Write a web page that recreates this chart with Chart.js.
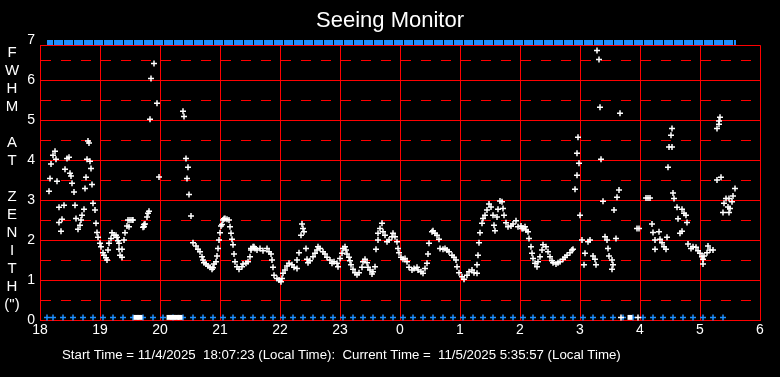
<!DOCTYPE html>
<html>
<head>
<meta charset="utf-8">
<title>Seeing Monitor</title>
<script src="https://cdn.jsdelivr.net/npm/chart.js@4/dist/chart.umd.min.js"></script>
<style>
  html, body { margin: 0; padding: 0; background: #000; }
  canvas { display: block; }
</style>
</head>
<body>
<canvas id="seeingChart" width="780" height="377"></canvas>
<script>
// x values are minutes after 18:00 local time, y values are FWHM in arcsec
const hourLabels = ['18', '19', '20', '21', '22', '23', '0', '1', '2', '3', '4', '5', '6'];
const yTickValues = [0, 0.5, 1, 1.5, 2, 2.5, 3, 3.5, 4, 4.5, 5, 5.5, 6, 6.5, 7];
const yAxisLetters = ['F', 'W', 'H', 'M', '', 'A', 'T', '', 'Z', 'E', 'N', 'I', 'T', 'H', '(")'];
const footerText = 'Start Time = 11/4/2025  18:07:23 (Local Time):  Current Time =  11/5/2025 5:35:57 (Local Time)';

// status ticks (blue) along the bottom, and the run bar along the top
const statusMinutes = [7, 13, 23, 33, 43, 53, 63, 73, 83, 93, 103, 113, 123, 133, 143, 153, 163, 173,
  183, 193, 203, 213, 223, 233, 243, 253, 263, 273, 283, 293, 303, 313, 323, 333, 343, 353, 363, 373,
  383, 393, 403, 413, 423, 433, 443, 453, 463, 473, 483, 493, 503, 513, 523, 533, 543, 553, 563, 573,
  583, 593, 603, 613, 623, 633, 643, 653, 663, 673, 683];
const currentMinute = 696;
const gapMinutes = [96, 100, 129, 133, 137, 140, 590];
const idleMinutes = [581, 598];

const seeingSamples = [
  // 18h
  [9, 3.22], [10, 3.54], [11, 3.9], [13, 4.12], [15, 4.22], [16, 4.02], [17, 3.47], [19, 2.82], [19, 2.44],
  [21, 2.22], [22, 2.52], [24, 2.87], [25, 3.77], [27, 4.04], [29, 4.07], [30, 3.67], [31, 3.6], [32, 3.42],
  [34, 3.2], [35, 2.87], [36, 2.54], [38, 2.27], [40, 2.37], [41, 2.5], [42, 2.62], [44, 2.77], [45, 3.29],
  [46, 3.57], [47, 4.02], [48, 4.48], [49, 4.43], [50, 3.97], [51, 3.79], [52, 3.39], [53, 2.92], [55, 2.75],
  [56, 2.42], [57, 2.19], [58, 2.07], [60, 1.92],
  // 19h
  [61, 1.83], [63, 1.68], [64, 1.62], [66, 1.56], [67, 1.5], [68, 1.75], [69, 1.92], [71, 2.04], [72, 2.18],
  [74, 2.12], [76, 2.12], [77, 2.07], [78, 1.98], [79, 1.92], [79, 1.77], [80, 1.62], [82, 1.77], [82, 1.57],
  [84, 2.0], [85, 2.18], [87, 2.35], [88, 2.5], [89, 2.33], [90, 2.5], [92, 2.5], [93, 2.5], [103, 2.32],
  [104, 2.39], [104, 2.33], [105, 2.4], [107, 2.58], [108, 2.67], [109, 2.72], [110, 5.02], [111, 6.04],
  [114, 6.42], [117, 5.42], [119, 3.58],
  // 20h
  [143, 5.22], [144, 5.09], [146, 4.04], [147, 3.54], [148, 3.82], [149, 3.14], [151, 2.6], [153, 1.93],
  [156, 1.85], [158, 1.77], [160, 1.71], [162, 1.58], [163, 1.5], [164, 1.43], [166, 1.4], [168, 1.35],
  [170, 1.32], [172, 1.27], [173, 1.31], [174, 1.4], [176, 1.46], [177, 1.6], [178, 1.79], [179, 2.0],
  [180, 2.18], [181, 2.35], [182, 2.39], [183, 2.5], [184, 2.53], [185, 2.54], [187, 2.52], [189, 2.5],
  [190, 2.33], [191, 2.17], [192, 2.02], [193, 1.88], [194, 1.65], [195, 1.46], [197, 1.33], [199, 1.27],
  // 21h
  [202, 1.33], [203, 1.4], [206, 1.42], [208, 1.46], [210, 1.58], [211, 1.75], [213, 1.83], [215, 1.79],
  [217, 1.75], [211, 1.79], [214, 1.83], [220, 1.79], [223, 1.73], [227, 1.79], [229, 1.71], [231, 1.65],
  [232, 1.5], [233, 1.32], [234, 1.12], [237, 1.04], [239, 1.0],
  // 22h
  [241, 0.96], [242, 1.04], [243, 1.17], [245, 1.25], [247, 1.35], [249, 1.42], [252, 1.38], [254, 1.32],
  [257, 1.29], [257, 1.5], [259, 1.68], [261, 2.12], [262, 2.4], [263, 2.29], [264, 2.21], [266, 1.79],
  [267, 1.52], [268, 1.43], [270, 1.48], [273, 1.58], [275, 1.67], [277, 1.75], [278, 1.83], [280, 1.79],
  [283, 1.71], [285, 1.65], [287, 1.57], [290, 1.5], [292, 1.42], [294, 1.46], [297, 1.42], [298, 1.33],
  // 23h
  [300, 1.54], [302, 1.67], [303, 1.79], [305, 1.83], [306, 1.75], [307, 1.65], [309, 1.57], [310, 1.48],
  [311, 1.38], [313, 1.27], [315, 1.18], [317, 1.13], [319, 1.18], [322, 1.32], [323, 1.46], [325, 1.52],
  [327, 1.43], [328, 1.32], [330, 1.25], [332, 1.15], [333, 1.21], [335, 1.33], [336, 1.77], [338, 2.0],
  [338, 2.17], [340, 2.29], [342, 2.42], [343, 2.21], [345, 2.12], [347, 1.96], [349, 2.0], [352, 2.08],
  [353, 2.17], [355, 2.08], [357, 1.96], [358, 1.79], [359, 1.68],
  // 0h
  [361, 1.57], [363, 1.52], [365, 1.54], [367, 1.46], [369, 1.32], [372, 1.25], [374, 1.29], [377, 1.32],
  [378, 1.25], [381, 1.21], [383, 1.17], [385, 1.29], [387, 1.42], [388, 1.65], [389, 1.92], [392, 2.21],
  [393, 2.23], [395, 2.17], [397, 2.12], [399, 2.02], [400, 1.79], [403, 1.77], [405, 1.79], [407, 1.75],
  [409, 1.71], [412, 1.62], [414, 1.57], [416, 1.5], [417, 1.33], [419, 1.18],
  // 1h
  [422, 1.08], [424, 1.02], [427, 1.12], [429, 1.21], [432, 1.25], [434, 1.18], [437, 1.17], [437, 1.38],
  [438, 1.62], [439, 1.93], [440, 2.18], [442, 2.42], [443, 2.54], [445, 2.62], [447, 2.75], [449, 2.9],
  [451, 2.83], [453, 2.62], [454, 2.37], [455, 2.23], [457, 2.58], [458, 2.77], [460, 2.98], [462, 2.96],
  [463, 2.79], [464, 2.62], [466, 2.43], [468, 2.33], [471, 2.35], [473, 2.4], [476, 2.48], [478, 2.33],
  // 2h
  [481, 2.35], [482, 2.29], [483, 2.29], [485, 2.33], [486, 2.25], [488, 2.21], [489, 2.04], [491, 1.83],
  [492, 1.67], [493, 1.54], [495, 1.42], [497, 1.33], [498, 1.46], [500, 1.58], [502, 1.75], [503, 1.88],
  [506, 1.83], [508, 1.71], [510, 1.58], [512, 1.48], [513, 1.43], [516, 1.4], [518, 1.43], [520, 1.46],
  [523, 1.52], [525, 1.57], [527, 1.62], [530, 1.68], [532, 1.75], [533, 1.77], [535, 3.27], [537, 3.62],
  [537, 4.17], [538, 4.57], [539, 3.92],
  // 3h
  [540, 2.62], [542, 2.0], [544, 1.38], [545, 1.67], [548, 1.96], [550, 2.0], [553, 1.6], [555, 1.52],
  [556, 1.38], [557, 6.74], [559, 6.52], [560, 5.32], [561, 4.02], [563, 2.97], [565, 2.08], [567, 2.0],
  [568, 1.79], [569, 1.6], [572, 1.5], [572, 1.27], [573, 1.38], [574, 2.75], [576, 2.04], [577, 3.07],
  [579, 3.25], [580, 5.17], [597, 2.29], [599, 2.29],
  // 4h
  [606, 3.05], [608, 3.05], [610, 3.05], [612, 2.4], [613, 2.19], [615, 2.0], [615, 1.77], [619, 2.21],
  [620, 2.02], [622, 1.93], [624, 1.83], [626, 1.77], [627, 2.07], [628, 3.82], [629, 4.33], [631, 4.62],
  [632, 4.79], [632, 4.33], [633, 3.18], [634, 3.04], [637, 2.82], [638, 2.53], [640, 2.17], [642, 2.22],
  [642, 2.77], [644, 2.67], [646, 2.62], [647, 2.44], [648, 1.9], [651, 1.79], [653, 1.83], [656, 1.82],
  [658, 1.73],
  // 5h
  [660, 1.67], [662, 1.58], [663, 1.52], [663, 1.4], [664, 1.6], [667, 1.68], [668, 1.85], [670, 1.75],
  [673, 1.75], [677, 4.79], [677, 3.5], [679, 4.9], [679, 4.98], [680, 5.07], [681, 3.57], [683, 2.69],
  [684, 2.92], [686, 3.04], [688, 2.83], [689, 3.04], [689, 2.69], [690, 2.79], [692, 2.96], [693, 3.1],
  [695, 3.29]
];

const RED = '#ff0000';
const BLUE = '#1e90ff';
const FONT = 'Arial, "Liberation Sans", sans-serif';
const bottomRow = 0.065;
const topRow = 6.94;

// top edge of the frame, stacked axis letters and the footer line
const seeingDecor = {
  id: 'seeingDecor',
  beforeDatasetsDraw(chart) {
    const { ctx, chartArea } = chart;
    ctx.save();
    ctx.strokeStyle = RED;
    ctx.lineWidth = 1;
    ctx.beginPath();
    ctx.moveTo(chartArea.left, Math.round(chartArea.top) + 0.5);
    ctx.lineTo(chartArea.right, Math.round(chartArea.top) + 0.5);
    ctx.stroke();
    ctx.restore();
  },
  afterDraw(chart) {
    const ctx = chart.ctx;
    ctx.save();
    ctx.fillStyle = '#ffffff';
    ctx.font = '15px ' + FONT;
    ctx.textAlign = 'center';
    ctx.textBaseline = 'middle';
    yAxisLetters.forEach((ch, i) => ctx.fillText(ch, 12, 53 + i * 18));
    ctx.font = '13.25px ' + FONT;
    ctx.textAlign = 'left';
    ctx.fillText(footerText, 62, 355);
    ctx.restore();
  }
};

const ctx = document.getElementById('seeingChart').getContext('2d');
new Chart(ctx, {
  type: 'scatter',
  data: {
    datasets: [
      {
        label: 'FWHM',
        data: seeingSamples.map(p => ({ x: p[0], y: p[1] })),
        pointStyle: 'cross',
        pointRadius: 3,
        borderColor: '#ffffff',
        borderWidth: 1.5,
        clip: false
      },
      {
        label: 'idle',
        data: idleMinutes.map(m => ({ x: m, y: bottomRow })),
        pointStyle: 'cross',
        pointRadius: 3,
        borderColor: '#ffffff',
        borderWidth: 1.5,
        clip: false
      },
      {
        label: 'gaps',
        data: gapMinutes.map(m => ({ x: m, y: bottomRow })),
        pointStyle: 'rect',
        pointRadius: 3.5,
        backgroundColor: '#ffffff',
        borderWidth: 0,
        clip: false
      },
      {
        label: 'status',
        data: statusMinutes.map(m => ({ x: m, y: bottomRow })),
        pointStyle: 'cross',
        pointRadius: 3,
        borderColor: BLUE,
        borderWidth: 1.5,
        clip: false
      },
      {
        label: 'run',
        data: statusMinutes.concat([currentMinute]).map(m => ({ x: m, y: topRow })),
        showLine: true,
        borderColor: BLUE,
        borderWidth: 5,
        borderDash: [9, 1],
        borderDashOffset: 3,
        pointRadius: 0,
        clip: false
      }
    ]
  },
  options: {
    responsive: false,
    animation: false,
    events: [],
    layout: { padding: 0 },
    plugins: {
      legend: { display: false },
      tooltip: { enabled: false },
      title: {
        display: true,
        text: 'Seeing Monitor',
        color: '#ffffff',
        font: { family: FONT, size: 22, weight: 'normal', lineHeight: '26px' },
        padding: { top: 8, bottom: 11.2 }
      }
    },
    scales: {
      x: {
        type: 'linear',
        min: 0,
        max: 720,
        afterFit: s => { s.height = 57; },
        ticks: {
          stepSize: 60,
          color: '#ffffff',
          font: { family: FONT, size: 14 },
          padding: 2,
          maxRotation: 0,
          autoSkip: false,
          callback: v => hourLabels[Math.round(v / 60)]
        },
        grid: { color: RED, lineWidth: 1, drawTicks: false },
        border: { color: RED }
      },
      y: {
        min: 0,
        max: 6.875,
        afterFit: s => { s.width = 40; },
        afterBuildTicks: s => { s.ticks = yTickValues.map(v => ({ value: v })); },
        ticks: {
          color: '#ffffff',
          font: { family: FONT, size: 14 },
          padding: 5,
          autoSkip: false,
          callback: v => Number.isInteger(v) ? String(v) : ''
        },
        grid: {
          color: c => (c.tick && c.tick.value > 6.9) ? 'rgba(0,0,0,0)' : RED,
          lineWidth: 1,
          drawTicks: false
        },
        border: {
          color: RED,
          dash: c => (c.tick && c.tick.value % 1 !== 0) ? [10, 10] : []
        }
      },
      // empty right-hand axis, only keeps the 20px margin on the right
      yRight: {
        position: 'right',
        min: 0,
        max: 6.875,
        afterFit: s => { s.width = 20; },
        ticks: { display: false },
        grid: { display: false, drawTicks: false },
        border: { display: false }
      }
    }
  },
  plugins: [seeingDecor]
});
</script>
</body>
</html>
